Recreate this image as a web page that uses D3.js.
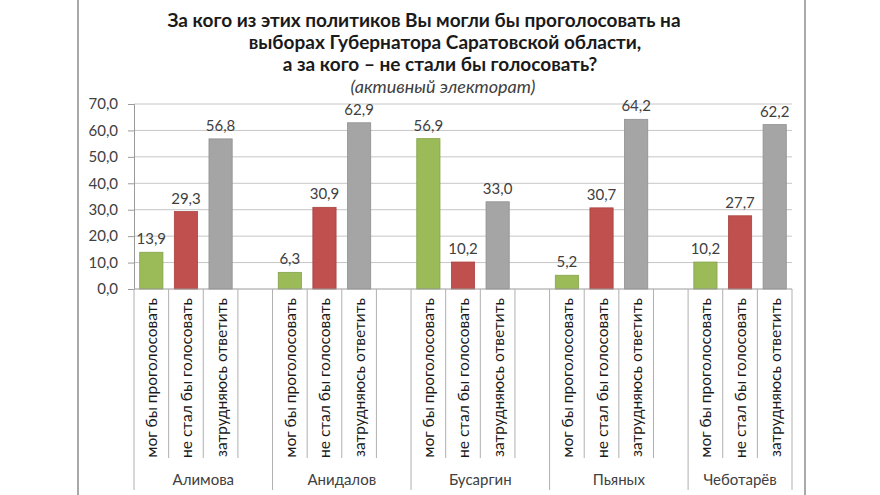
<!DOCTYPE html>
<html>
<head>
<meta charset="utf-8">
<title>D3.js</title>
<script src="https://d3js.org/d3.v7.min.js"></script>
<style>
  body { margin: 0; background: #fff; }
  text { font-family: Lato, "Open Sans", sans-serif; }
</style>
</head>
<body>
<svg id="mainsvg" width="880" height="495"></svg>
<script>
// ---------- data ----------
const politicians = ["Алимова", "Анидалов", "Бусаргин", "Пьяных", "Чеботарёв"];
const answers = ["мог бы проголосовать", "не стал бы голосовать", "затрудняюсь ответить"];
const couldVote = [13.9, 6.3, 56.9, 5.2, 10.2];
const wouldNot = [29.3, 30.9, 10.2, 30.7, 27.7];
const undecided = [56.8, 62.9, 33.0, 64.2, 62.2];
const yTicks = [0, 10, 20, 30, 40, 50, 60, 70];
const titleLines = [
  "За кого из этих политиков Вы могли бы проголосовать на",
  "выборах Губернатора Саратовской области,",
  "а за кого – не стали бы голосовать?"
];
const subtitle = "(активный электорат)";
const colors = ["#9bbb59", "#c0504d", "#a5a5a5"];
const strokes = ["#86a34a", "#a8433f", "#8f8f8f"];

// ---------- setup ----------
const svg = d3.select("#mainsvg");
const plot = {left: 134, right: 792, top: 104, bottom: 289};

// slide frame lines
svg.append("line").attr("x1", 78).attr("x2", 78).attr("y1", 0).attr("y2", 495)
   .attr("stroke", "#8c8c8c").attr("stroke-width", 1.5);
svg.append("line").attr("x1", 805).attr("x2", 805).attr("y1", 0).attr("y2", 495)
   .attr("stroke", "#8c8c8c").attr("stroke-width", 1.5);

// title
const title = svg.append("g");
const titleX = [424, 445, 440];
titleLines.forEach((t, i) => {
  title.append("text").attr("x", titleX[i]).attr("y", 27 + i * 22)
    .attr("text-anchor", "middle").attr("font-size", 19).attr("font-weight", "bold")
    .attr("fill", "#1a1a1a").text(t);
});
title.append("text").attr("x", 443).attr("y", 93)
  .attr("text-anchor", "middle").attr("font-size", 18).attr("font-style", "italic")
  .attr("font-family", "'Open Sans', sans-serif")
  .attr("fill", "#404040").text(subtitle);

// slots: 4 per politician (3 answers + empty gap), last without the gap
const slots = [];
politicians.forEach((p, gi) => {
  answers.forEach((a, ai) => slots.push({id: gi + "-" + ai, group: gi, ans: ai}));
  if (gi < politicians.length - 1) slots.push({id: gi + "-gap", group: gi, ans: -1});
});
const values = [couldVote, wouldNot, undecided];
const bars = slots.filter(s => s.ans >= 0).map(s => ({...s, value: values[s.ans][s.group]}));

const x = d3.scaleBand().domain(slots.map(s => s.id)).range([plot.left, plot.right]);
const y = d3.scaleLinear().domain([0, 70]).range([plot.bottom, plot.top]);
const fmt = v => d3.format(".1f")(v).replace(".", ",");

// gridlines
svg.append("g").selectAll("line").data(yTicks.filter(d => d > 0)).join("line")
  .attr("x1", plot.left).attr("x2", plot.right)
  .attr("y1", d => y(d)).attr("y2", d => y(d))
  .attr("stroke", "#c6c6c6").attr("stroke-width", 1);

// y axis
const yAxis = svg.append("g").attr("transform", `translate(${plot.left},0)`)
  .call(d3.axisLeft(y).tickValues(yTicks).tickFormat(fmt).tickSize(6).tickPadding(10));
yAxis.select(".domain").attr("stroke", "#9a9a9a");
yAxis.selectAll(".tick line").attr("stroke", "#9a9a9a");
yAxis.selectAll(".tick text").attr("font-size", 15).attr("fill", "#404040")
  .attr("font-family", "Lato, sans-serif");

// bars
const bw = x.bandwidth() * 0.67;
svg.append("g").selectAll("rect").data(bars).join("rect")
  .attr("x", d => x(d.id) + (x.bandwidth() - bw) / 2)
  .attr("width", bw)
  .attr("y", d => y(d.value))
  .attr("height", d => y(0) - y(d.value))
  .attr("fill", d => colors[d.ans])
  .attr("stroke", d => strokes[d.ans]).attr("stroke-width", 0.8);

// value labels
svg.append("g").selectAll("text").data(bars).join("text")
  .attr("x", d => x(d.id) + x.bandwidth() / 2)
  .attr("y", d => y(d.value) - 8)
  .attr("text-anchor", "middle").attr("font-size", 15).attr("fill", "#404040")
  .text(d => fmt(d.value));

// category axis line
svg.append("line").attr("x1", plot.left).attr("x2", plot.right)
  .attr("y1", plot.bottom).attr("y2", plot.bottom).attr("stroke", "#9a9a9a");

// slot separators
const bounds = slots.map(s => ({x: x(s.id), groupStart: s.ans === 0}));
bounds.push({x: plot.right, groupStart: true});
svg.append("g").selectAll("line").data(bounds).join("line")
  .attr("x1", d => d.x).attr("x2", d => d.x)
  .attr("y1", plot.bottom).attr("y2", d => d.groupStart ? 490 : 458)
  .attr("stroke", "#b0b0b0");

// rotated answer labels
svg.append("g").selectAll("text").data(bars).join("text")
  .attr("transform", d => `translate(${x(d.id) + x.bandwidth() / 2},298) rotate(-90)`)
  .attr("text-anchor", "end").attr("dominant-baseline", "central")
  .attr("font-size", 15.5).attr("fill", "#1a1a1a")
  .text(d => answers[d.ans]);

// group labels
svg.append("g").selectAll("text").data(politicians).join("text")
  .attr("x", (d, i) => {
    const first = x(i + "-0");
    const last = x(i + "-2") + x.bandwidth();
    return (first + (i < politicians.length - 1 ? last + x.bandwidth() : last)) / 2;
  })
  .attr("y", 485).attr("text-anchor", "middle")
  .attr("font-size", 15).attr("fill", "#404040")
  .text(d => d);
</script>
</body>
</html>
